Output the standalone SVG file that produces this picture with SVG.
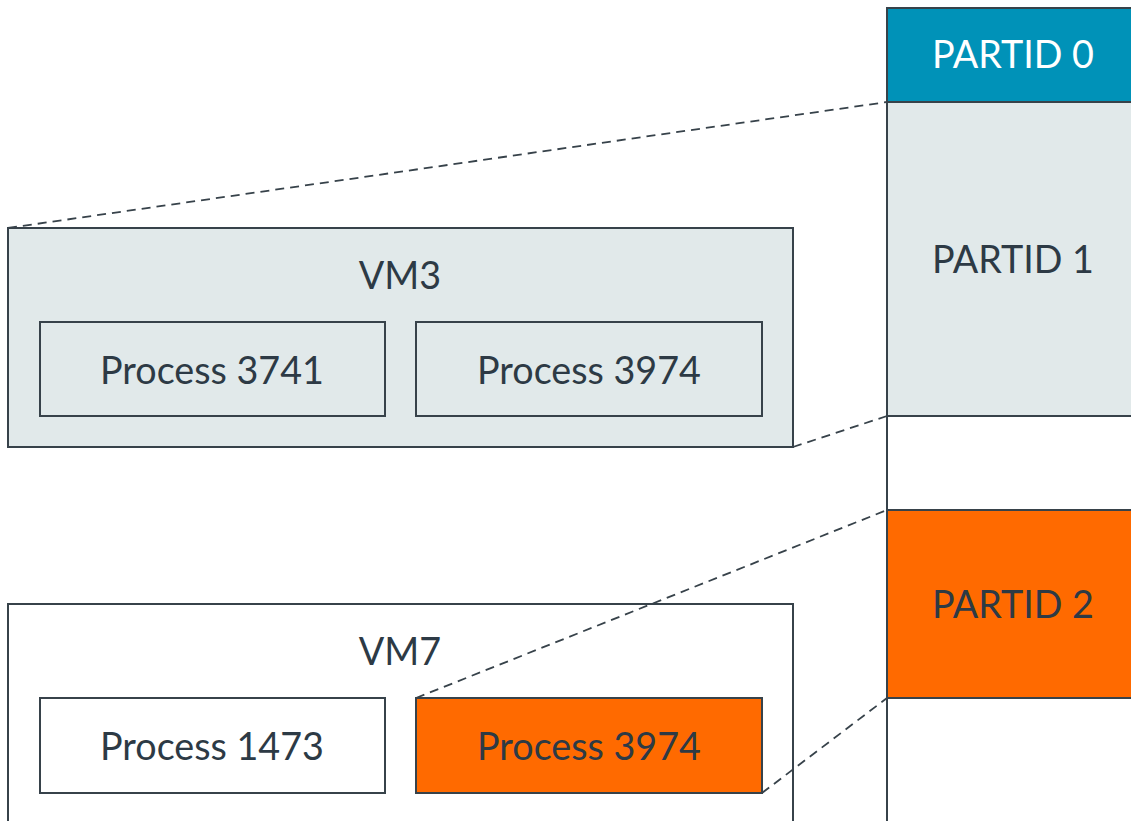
<svg xmlns="http://www.w3.org/2000/svg" width="1131" height="821" viewBox="0 0 1131 821">
  <style>
    .box { stroke: #37424a; stroke-width: 2; }
    .grey { fill: #e1e9ea; }
    .white { fill: #ffffff; }
    .orange { fill: #ff6a00; }
    .teal { fill: #0092b8; }
    .lbl { font-family: Lato, "Liberation Sans", sans-serif; font-size: 37.7px; fill: #2d3a45; text-anchor: middle; }
    .lbl-w { fill: #ffffff; }
    .dash { fill: none; stroke: #37424a; stroke-width: 1.8; stroke-dasharray: 9 6; }
  </style>
  <rect width="1131" height="821" fill="#ffffff"/>

  <!-- partition column -->
  <g id="partid0">
    <rect class="box teal" x="887" y="8" width="260" height="94"/>
    <text class="lbl lbl-w" x="1013" y="68">PARTID 0</text>
  </g>
  <g id="partid1">
    <rect class="box grey" x="887" y="102" width="260" height="314"/>
    <text class="lbl" x="1013" y="273">PARTID 1</text>
  </g>
  <g id="gap1">
    <rect class="box white" x="887" y="416" width="260" height="94"/>
  </g>
  <g id="partid2">
    <rect class="box orange" x="887" y="510" width="260" height="188"/>
    <text class="lbl" x="1013" y="618">PARTID 2</text>
  </g>
  <g id="gap2">
    <rect class="box white" x="887" y="698" width="260" height="140"/>
  </g>

  <!-- VM3 -->
  <g id="vm3">
    <rect class="box grey" x="8" y="228" width="785" height="219"/>
    <text class="lbl" x="400" y="289">VM3</text>
  </g>
  <g id="vm3-p3741">
    <rect class="box grey" x="40" y="322" width="345" height="94"/>
    <text class="lbl" x="212" y="384">Process 3741</text>
  </g>
  <g id="vm3-p3974">
    <rect class="box grey" x="416" y="322" width="346" height="94"/>
    <text class="lbl" x="589" y="384">Process 3974</text>
  </g>

  <!-- VM7 -->
  <g id="vm7">
    <rect class="box white" x="8" y="604" width="785" height="240"/>
    <text class="lbl" x="400" y="665">VM7</text>
  </g>
  <g id="vm7-p1473">
    <rect class="box white" x="40" y="698" width="345" height="95"/>
    <text class="lbl" x="212" y="760">Process 1473</text>
  </g>
  <g id="vm7-p3974">
    <rect class="box orange" x="416" y="698" width="346" height="95"/>
    <text class="lbl" x="589" y="760">Process 3974</text>
  </g>

  <!-- mapping lines -->
  <g id="connectors">
    <line class="dash" x1="8" y1="228" x2="887" y2="102"/>
    <line class="dash" x1="793" y1="447" x2="887" y2="416"/>
    <line class="dash" x1="416" y1="698" x2="887" y2="510"/>
    <line class="dash" x1="762" y1="793" x2="887" y2="698"/>
  </g>
</svg>
